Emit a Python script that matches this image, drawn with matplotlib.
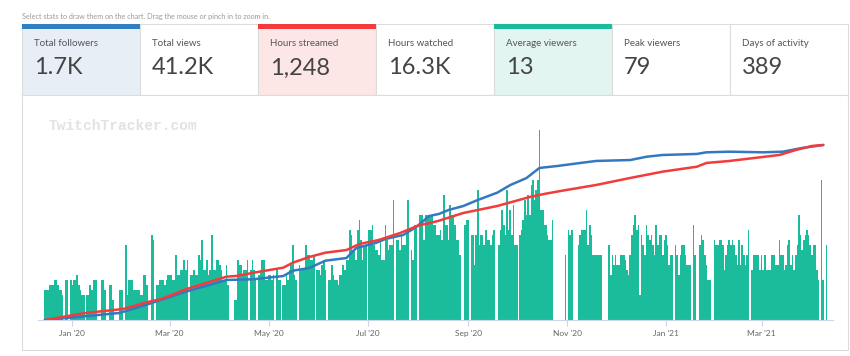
import matplotlib
matplotlib.use("Agg")
import matplotlib.pyplot as plt
from matplotlib.patches import Rectangle
import pandas as pd

plt.rcParams['font.family'] = ['Lato', 'DejaVu Sans']

# stat boxes on top
stat_labels = ['Total followers', 'Total views', 'Hours streamed', 'Hours watched',
               'Average viewers', 'Peak viewers', 'Days of activity']
stat_values = ['1.7K', '41.2K', '1,248', '16.3K', '13', '79', '389']

# daily average viewers, starting 2019-12-15
avg_viewers = [
    6, 6, 6, 7, 7, 7, 8, 8, 7, 6, 6, 5, 0, 8, 8, 0, 8, 7, 8, 8, 9, 7, 6, 5, 5, 0,
    5, 5, 7, 6, 8, 8, 8, 0, 0, 8, 8, 6, 0, 0, 7, 7, 4, 0, 0, 0, 6, 6, 6, 0,
    15, 5, 8, 8, 8, 6, 6, 6, 6, 5, 5, 9, 9, 7, 0, 0,
    17, 16, 0, 7, 7, 8, 8, 8, 7, 8, 9, 9, 9, 8, 8, 13, 9, 9, 10, 10, 12, 10, 12, 0,
    9, 9, 10, 9, 9, 13, 12, 16, 10, 10, 12, 9, 10, 17, 10, 10, 12, 12, 11, 10, 8, 8, 11, 7,
    0, 0, 0, 4, 4, 12, 11, 11, 9, 10, 10, 12, 0, 10, 12, 10, 8, 0,
    9, 10, 12, 12, 8, 8, 9, 9, 8, 9, 0, 10, 8, 8, 0, 7, 7, 9, 8, 10, 11, 15, 9, 8, 0,
    11, 10, 10, 10, 15, 13, 13, 12, 12, 13, 0, 10, 10, 9, 11, 12, 10, 0, 8, 8, 11, 9, 8,
    8, 7, 9, 9, 11, 10, 12, 12, 18, 17, 14, 14, 12, 18, 20, 16, 12, 15, 15, 0,
    18, 18, 19, 15, 14, 14, 13, 16, 12, 12, 19, 16, 14, 15, 15, 24, 0, 16, 16, 14,
    17, 15, 15, 18, 24, 0, 14, 12, 19, 19, 0,
    21, 21, 21, 16, 21, 21, 21, 21, 21, 19, 19, 17, 17,
    18, 16, 25, 19, 19, 16, 23, 21, 21, 19, 16, 16, 13, 0, 0, 19, 20, 20, 0, 17, 17, 11,
    17, 26, 15, 17, 17, 15, 18, 16, 16, 15, 17, 18, 0, 0, 15, 18, 22, 19, 17, 26, 18,
    22, 17, 23, 15, 15, 0, 17, 18, 20, 24, 21, 25, 21, 27, 28, 24, 26, 28, 38, 22, 22,
    19, 19, 17, 16, 16, 20, 0, 0, 0, 0, 0, 0, 0, 13, 0, 18, 17, 18, 0, 0, 0, 15, 17,
    18, 18, 18, 22, 15, 19, 17, 13, 13, 13, 13, 13, 13, 0, 0, 0, 0, 15, 9, 13, 11, 13,
    11, 11, 13, 13, 13, 12, 10, 9, 13, 17, 19, 21, 18, 19, 5, 17, 15, 13, 19, 17, 16,
    17, 15, 13, 19, 15, 17, 17, 13, 16, 17, 15, 11, 13, 13, 0, 15, 13, 9, 13, 15, 15,
    13, 11, 11, 11, 0, 19, 13, 0, 0, 15, 17, 16, 13, 11, 8, 8, 0, 0, 16, 15, 15, 16,
    16, 15, 10, 13, 15, 16, 15, 16, 15, 13, 11, 16, 11, 15, 13, 11, 13, 18, 0, 10, 13,
    13, 13, 13, 10, 13, 10, 13, 10, 10, 10, 13, 13, 13, 11, 11, 16, 13, 13, 10, 11,
    15, 16, 11, 13, 10, 13, 15, 21, 17, 14, 16, 17, 18, 17, 15, 13, 15, 15, 10, 8, 0,
    28, 8, 0, 15,
]

follower_dates = ['2019-12-15', '2020-01-30', '2020-02-17', '2020-03-11', '2020-04-05',
                  '2020-04-21', '2020-05-10', '2020-05-16', '2020-05-26', '2020-06-05',
                  '2020-06-18', '2020-06-24', '2020-07-06', '2020-07-12', '2020-07-23',
                  '2020-07-31', '2020-08-08', '2020-08-14', '2020-08-20', '2020-08-29',
                  '2020-09-07', '2020-09-19', '2020-09-27', '2020-10-07', '2020-10-15',
                  '2020-10-26', '2020-11-09', '2020-11-19', '2020-12-10', '2020-12-20',
                  '2020-12-30', '2021-01-20', '2021-01-26', '2021-02-09', '2021-03-02',
                  '2021-03-14', '2021-03-26', '2021-04-08']
followers = [0, 68, 155, 275, 389, 395, 427, 479, 505, 576, 602, 699, 748, 787, 826,
             903, 1010, 1030, 1069, 1107, 1166, 1237, 1311, 1379, 1477, 1496, 1525,
             1545, 1554, 1586, 1603, 1613, 1629, 1635, 1629, 1635, 1671, 1700]

hours_dates = ['2019-12-15', '2020-01-09', '2020-02-01', '2020-02-17', '2020-02-25',
               '2020-03-11', '2020-04-05', '2020-04-11', '2020-04-25', '2020-05-10',
               '2020-05-16', '2020-05-26', '2020-06-05', '2020-06-18', '2020-06-26',
               '2020-07-08', '2020-07-21', '2020-08-02', '2020-08-08', '2020-08-14',
               '2020-08-29', '2020-09-19', '2020-10-09', '2020-10-18', '2020-10-29',
               '2020-11-19', '2020-12-10', '2020-12-30', '2021-01-20', '2021-01-26',
               '2021-02-09', '2021-03-02', '2021-03-12', '2021-03-22', '2021-04-01',
               '2021-04-08']
hours = [0, 50, 78, 130, 150, 219, 309, 314, 344, 373, 409, 449, 480, 499, 542, 571,
         620, 677, 690, 708, 763, 813, 877, 899, 922, 963, 1013, 1058, 1093, 1120, 1134,
         1163, 1177, 1212, 1241, 1248]

tick_dates = ['2020-01-01', '2020-03-01', '2020-05-01', '2020-07-01', '2020-09-01',
              '2020-11-01', '2021-01-01', '2021-03-01']
tick_labels = ["Jan '20", "Mar '20", "May '20", "Jul '20", "Sep '20", "Nov '20",
               "Jan '21", "Mar '21"]

W, H = 850, 356
fig = plt.figure(figsize=(W / 100, H / 100), dpi=100)
fig.patch.set_facecolor('white')

# background layer in pixel coordinates
bg = fig.add_axes([0, 0, 1, 1])
bg.set_xlim(0, W)
bg.set_ylim(H, 0)
bg.axis('off')

bg.text(22, 16, 'Select stats to draw them on the chart. Drag the mouse or pinch in to zoom in.',
        fontsize=5.2, color='#9a9a9a', va='center', ha='left')

sel = {0: ('#2f7fc1', '#e7eef6'), 2: ('#f43b3b', '#fde6e6'), 4: ('#1abc9c', '#e2f5f0')}
box_w = 118
for i, (lab, val) in enumerate(zip(stat_labels, stat_values)):
    x0 = 22 + i * box_w
    face = sel[i][1] if i in sel else 'white'
    bg.add_patch(Rectangle((x0, 24), box_w, 71, facecolor=face,
                           edgecolor='#dcdcdc', linewidth=0.8))
    if i in sel:
        bg.add_patch(Rectangle((x0, 24), box_w, 5, facecolor=sel[i][0],
                               edgecolor='none'))
    bg.text(x0 + 12, 43, lab, fontsize=7, color='#555555', va='center', ha='left')
    bg.text(x0 + 12, 68, val, fontsize=17, color='#444444', va='center', ha='left')

# chart panel
bg.add_patch(Rectangle((22, 95), 826, 255, facecolor='white', edgecolor='#dcdcdc',
                       linewidth=0.8))
bg.text(49, 126, 'TwitchTracker.com', fontsize=10.5, color='#e2e2e2',
        family='Liberation Mono', fontweight='bold', va='center', ha='left')

# chart axes
left, right = 38.3 / W, 833 / W
bottom, top = (H - 320) / H, (H - 105) / H
ax = fig.add_axes([left, bottom, right - left, top - bottom])
ax.patch.set_alpha(0)

days = pd.date_range('2019-12-15', periods=len(avg_viewers), freq='D')
ax.bar(days, avg_viewers, width=1.0, color='#1abc9c', edgecolor='none',
       antialiased=False, zorder=2)
ax.set_ylim(0, 43)
ax.set_xlim(pd.Timestamp('2019-12-11'), pd.Timestamp('2021-04-14'))

ax2 = ax.twinx()
ax2.plot(pd.to_datetime(follower_dates), followers, color='#3479c0', lw=1.8,
         solid_capstyle='round', zorder=3)
ax2.set_ylim(0, 1700 * 215 / 175)
ax3 = ax.twinx()
ax3.plot(pd.to_datetime(hours_dates), hours, color='#f23b3b', lw=1.8,
         solid_capstyle='round', zorder=4)
ax3.set_ylim(0, 1248 * 215 / 175)

for a in (ax, ax2, ax3):
    for s in a.spines.values():
        s.set_visible(False)
    a.set_yticks([])
ax.spines['bottom'].set_visible(True)
ax.spines['bottom'].set_color('#ccd6eb')
ax.spines['bottom'].set_linewidth(0.8)

ax.set_xticks(pd.to_datetime(tick_dates))
ax.set_xticklabels(tick_labels)
ax.tick_params(axis='x', colors='#ccd6eb', length=4, width=0.8, labelsize=6,
               labelcolor='#666666', pad=3)

fig.savefig('out.png', dpi=100)
